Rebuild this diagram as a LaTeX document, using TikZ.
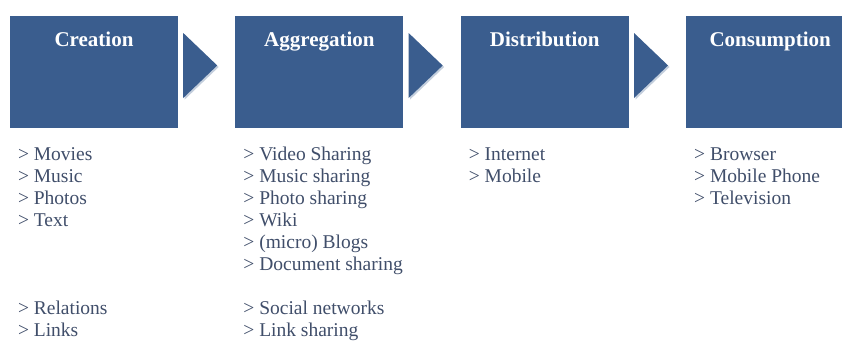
\documentclass[tikz,border=0pt]{standalone}
\usepackage{fontspec}
\setmainfont{Liberation Serif}
\usepackage{tikz}
\usetikzlibrary{positioning,shadows}
\definecolor{stageblue}{RGB}{58,93,142}
\definecolor{listgray}{RGB}{64,78,106}
\tikzset{
  stage/.style = {rectangle, fill=stageblue, inner sep=0pt,
    minimum width=168pt, minimum height=112pt},% blue stage box
  stagehead/.style = {white, anchor=base, inner sep=0pt,
    font=\fontsize{21}{25}\selectfont\bfseries},% title in the box
  stagelist/.style = {listgray, align=left, anchor=north west, inner sep=0pt,
    font=\fontsize{19.5}{22}\selectfont},% items under the box
  flow/.style = {fill=stageblue, drop shadow={shadow xshift=1.5pt,
    shadow yshift=-1.5pt, fill=stageblue!60, opacity=0.5}}% arrow between boxes
}

\begin{document}
\begin{tikzpicture}[x=1pt, y=-1pt, node distance=57pt]
		\fill[white] (0,0) rectangle (842,340);
		\useasboundingbox (0,0) rectangle (842,340);
		\node [stage] (creation) at (94,72) {};
		\node [stage, right=of creation] (aggregation) {};
		\node [stage, right=of aggregation] (distribution) {};
		\node [stage, right=of distribution] (consumption) {};
		\node [stagehead] (creationhead) at ([yshift=-31pt]creation.north) {Creation};
		\node [stagehead] (aggregationhead) at ([yshift=-31pt]aggregation.north) {Aggregation};
		\node [stagehead] (distributionhead) at ([yshift=-31pt]distribution.north) {Distribution};
		\node [stagehead] (consumptionhead) at ([yshift=-31pt]consumption.north) {Consumption};
		\foreach \a/\b in {creation/aggregation, aggregation/distribution, distribution/consumption}
			\fill [flow] ([xshift=5pt, yshift=39pt]\a.east) -- ([xshift=39pt, yshift=6.5pt]\a.east)
				-- ([xshift=5pt, yshift=-26pt]\a.east) -- cycle;
		\node [stagelist] (creationlist) at ([xshift=8pt, yshift=-16.6pt]creation.south west)
			{\strut> Movies\\> Music\\> Photos\\> Text\\[66pt]> Relations\\> Links};
		\node [stagelist] (aggregationlist) at ([xshift=8pt, yshift=-16.6pt]aggregation.south west)
			{\strut> Video Sharing\\> Music sharing\\> Photo sharing\\> Wiki\\> (micro) Blogs\\> Document sharing\\[22pt]> Social networks\\> Link sharing};
		\node [stagelist] (distributionlist) at ([xshift=8pt, yshift=-16.6pt]distribution.south west)
			{\strut> Internet\\> Mobile};
		\node [stagelist] (consumptionlist) at ([xshift=8pt, yshift=-16.6pt]consumption.south west)
			{\strut> Browser\\> Mobile Phone\\> Television};
	\end{tikzpicture}
\end{document}
